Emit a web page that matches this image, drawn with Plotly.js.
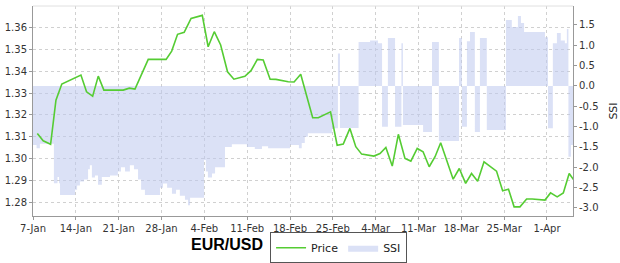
<!DOCTYPE html>
<html>
<head>
<meta charset="utf-8">
<script src="https://cdn.plot.ly/plotly-3.0.1.min.js"></script>
<style>html,body{margin:0;padding:0;background:#fff;}#chart{width:620px;height:263px;}</style>
</head>
<body>
<div id="chart"></div>
<script>
// ---- Data ----
var priceDates = [
"2013-01-07 17:00","2013-01-08 16:00","2013-01-09 21:00","2013-01-10 18:00","2013-01-11 17:00",
"2013-01-14 20:00","2013-01-15 18:00","2013-01-16 18:00","2013-01-17 16:00","2013-01-18 14:00",
"2013-01-21 18:00","2013-01-22 18:00","2013-01-23 16:00","2013-01-25 20:00","2013-01-28 18:00",
"2013-01-29 16:00","2013-01-30 15:00","2013-01-31 17:00","2013-02-01 20:00","2013-02-03 16:00",
"2013-02-04 15:00","2013-02-05 15:00","2013-02-06 16:00","2013-02-07 19:00","2013-02-08 20:00",
"2013-02-10 15:00","2013-02-11 15:00","2013-02-12 16:00","2013-02-13 15:00","2013-02-14 18:00",
"2013-02-15 17:00","2013-02-17 17:00","2013-02-18 16:00","2013-02-19 18:00","2013-02-21 17:00",
"2013-02-22 15:00","2013-02-24 15:00","2013-02-25 17:00","2013-02-26 17:00","2013-02-27 19:00",
"2013-02-28 18:00","2013-03-01 17:00","2013-03-03 17:00","2013-03-04 17:00","2013-03-05 16:00",
"2013-03-06 17:00","2013-03-07 17:00","2013-03-08 19:00","2013-03-09 18:00","2013-03-10 19:00",
"2013-03-11 18:00","2013-03-12 18:00","2013-03-13 17:00","2013-03-14 15:00","2013-03-16 16:00",
"2013-03-17 16:00","2013-03-18 17:00","2013-03-19 16:00","2013-03-20 16:00","2013-03-21 17:00",
"2013-03-23 18:00","2013-03-24 18:00","2013-03-25 17:00","2013-03-26 15:00","2013-03-27 14:00",
"2013-03-28 16:00","2013-03-29 14:00","2013-03-31 16:00","2013-04-01 14:00","2013-04-02 16:00",
"2013-04-03 16:00","2013-04-04 15:00","2013-04-05 16:00"
];
var priceValues = [
1.3115,1.3081,1.3065,1.3268,1.3342,
1.3383,1.3306,1.3286,1.3378,1.3314,
1.3314,1.3323,1.3319,1.3455,1.3455,
1.3493,1.3570,1.3579,1.3643,1.3657,
1.3513,1.3582,1.3521,1.3398,1.3364,
1.3377,1.3403,1.3455,1.3452,1.3364,
1.3363,1.3352,1.3351,1.3387,1.3187,
1.3187,1.3214,1.3061,1.3066,1.3138,
1.3054,1.3020,1.3011,1.3023,1.3051,
1.2965,1.3111,1.3000,1.2988,1.3046,
1.3031,1.2962,1.3008,1.3072,1.2905,
1.2954,1.2886,1.2931,1.2896,1.2985,
1.2942,1.2852,1.2859,1.2778,1.2778,
1.2814,1.2814,1.2809,1.2842,1.2824,
1.2842,1.2931,1.2890
];
var ssiDates = [
"2013-01-07 00:00","2013-01-07 14:00","2013-01-08 03:00","2013-01-10 10:00","2013-01-11 00:00",
"2013-01-11 06:00","2013-01-11 10:00","2013-01-13 21:00","2013-01-14 05:00","2013-01-14 16:00",
"2013-01-15 08:00","2013-01-16 00:00","2013-01-16 07:00","2013-01-16 15:00","2013-01-17 03:00",
"2013-01-17 15:00","2013-01-18 06:00","2013-01-19 14:00","2013-01-20 21:00","2013-01-21 09:00",
"2013-01-22 01:00","2013-01-22 20:00","2013-01-23 12:00","2013-01-24 04:00","2013-01-24 16:00",
"2013-01-25 07:00","2013-01-27 18:00","2013-01-28 06:00","2013-01-28 22:00","2013-01-29 17:00",
"2013-01-30 09:00","2013-01-31 00:00","2013-01-31 20:00","2013-02-01 08:00","2013-02-01 16:00",
"2013-02-03 23:00","2013-02-04 06:00","2013-02-04 14:00","2013-02-05 06:00","2013-02-05 18:00",
"2013-02-07 09:00","2013-02-08 12:00","2013-02-10 23:00","2013-02-12 06:00","2013-02-13 10:00",
"2013-02-14 10:00","2013-02-18 00:00","2013-02-19 11:00","2013-02-19 22:00","2013-02-20 10:00",
"2013-02-20 22:00","2013-02-24 21:00","2013-02-25 20:00","2013-02-26 04:00","2013-03-01 05:00",
"2013-03-03 02:00","2013-03-04 09:00","2013-03-05 01:00","2013-03-06 00:00","2013-03-07 04:00",
"2013-03-08 05:00","2013-03-08 11:00","2013-03-11 18:00","2013-03-13 05:00","2013-03-14 08:00",
"2013-03-17 15:00","2013-03-18 02:00","2013-03-18 22:00","2013-03-19 10:00","2013-03-20 05:00",
"2013-03-21 01:00","2013-03-22 04:00","2013-03-25 07:00","2013-03-26 06:00","2013-03-27 06:00",
"2013-03-27 18:00","2013-03-28 06:00","2013-03-31 16:00","2013-04-01 04:00","2013-04-01 23:00",
"2013-04-02 15:00","2013-04-03 06:00","2013-04-03 22:00","2013-04-04 06:00","2013-04-04 12:00",
"2013-04-04 22:00","2013-04-05 06:00"
];
var ssiValues = [
-1.45,-1.53,-1.42,-2.39,-2.24,
-2.39,-2.68,-2.55,-2.45,-2.35,
-2.30,-2.05,-1.95,-2.25,-2.20,
-2.43,-2.24,-2.20,-2.10,-2.00,
-2.10,-1.95,-2.05,-2.30,-2.55,
-2.68,-2.50,-2.40,-2.50,-2.65,
-2.55,-2.70,-2.80,-2.93,-2.75,
-1.82,-2.10,-2.25,-2.15,-2.00,
-1.50,-1.43,-1.50,-1.55,-1.48,
-1.53,-1.45,-1.53,-1.40,-1.25,
-1.16,-1.04,0.80,-1.03,1.08,
1.12,1.05,-1.00,1.18,-1.00,
1.05,-0.96,-1.13,1.08,-1.35,
1.18,-1.00,1.10,1.33,-1.13,
1.18,-1.08,1.62,1.45,1.72,
1.55,1.33,1.20,-1.04,1.05,
1.30,1.12,1.05,1.40,-1.74,
-1.45,-1.45
];
var priceTicks = [1.28,1.29,1.30,1.31,1.32,1.33,1.34,1.35,1.36];
var ssiTickVals = [-3.0,-2.5,-2.0,-1.5,-1.0,-0.5,0.0,0.5,1.0,1.5];
var ssiTickText = ["-3.0","-2.5","-2.0","-1.5","-1.0","-0.5","0.0","0.5","1.0","1.5"];
var seriesTitle = "EUR/USD";

var tickFont = {family: "DejaVu Sans, sans-serif", size: 10, color: "#333"};

var traces = [
  {
    name: "SSI", x: ssiDates, y: ssiValues, yaxis: "y",
    type: "scatter", mode: "lines", line: {shape: "hv", width: 0, color: "rgba(190,200,238,0.55)"},
    fill: "tozeroy", fillcolor: "rgba(190,200,238,0.55)", hoverinfo: "x+y"
  },
  {
    name: "Price", x: priceDates, y: priceValues, yaxis: "y2",
    type: "scatter", mode: "lines", line: {color: "#55cc33", width: 1.6}
  }
];

var layout = {
  width: 620, height: 263,
  margin: {l: 33, r: 47, t: 6, b: 47, autoexpand: false},
  paper_bgcolor: "#fff", plot_bgcolor: "#fff",
  showlegend: true,
  legend: {
    orientation: "h", x: 0.439, y: -0.151, xanchor: "left", yanchor: "middle",
    bordercolor: "#555", borderwidth: 1, font: {family: "DejaVu Sans, sans-serif", size: 11, color: "#222"},
    traceorder: "reversed", itemwidth: 30, tracegroupgap: 0
  },
  xaxis: {
    type: "date", range: ["2013-01-07 00:00", "2013-04-05 06:00"],
    tick0: "2013-01-07", dtick: 7 * 86400000, tickformat: "%-d-%b",
    showgrid: true, gridcolor: "#d0d0d0", griddash: "dot", gridwidth: 1,
    showline: true, linecolor: "#999", linewidth: 1,
    ticks: "outside", ticklen: 3, tickcolor: "#999", tickfont: tickFont
  },
  yaxis: {
    side: "right", range: [-3.197, 1.967],
    tickvals: ssiTickVals, ticktext: ssiTickText,
    showgrid: false, zeroline: false,
    showline: true, linecolor: "#999", linewidth: 1,
    ticks: "outside", ticklen: 3, tickcolor: "#999", tickfont: tickFont,
    title: {text: "SSI", font: {family: "DejaVu Sans, sans-serif", size: 11, color: "#222"}, standoff: 12}
  },
  yaxis2: {
    overlaying: "y", side: "left", range: [1.2736, 1.370],
    tickvals: priceTicks, tickformat: ".2f",
    showgrid: true, gridcolor: "#d0d0d0", griddash: "dot", gridwidth: 1,
    zeroline: false,
    showline: true, linecolor: "#999", linewidth: 1,
    ticks: "outside", ticklen: 3, tickcolor: "#999", tickfont: tickFont
  },
  shapes: [
    {type: "line", xref: "paper", yref: "paper", x0: 0, x1: 1, y0: 1, y1: 1, line: {color: "#e0e0e0", width: 1}}
  ],
  annotations: [
    {text: "<b>" + seriesTitle + "</b>", xref: "paper", yref: "paper", x: 0.43, y: -0.138,
     xanchor: "right", yanchor: "middle", showarrow: false,
     font: {family: "Liberation Sans, Arial, sans-serif", size: 16, color: "#000"}}
  ]
};

Plotly.newPlot("chart", traces, layout, {displayModeBar: false, staticPlot: true});
</script>
</body>
</html>
